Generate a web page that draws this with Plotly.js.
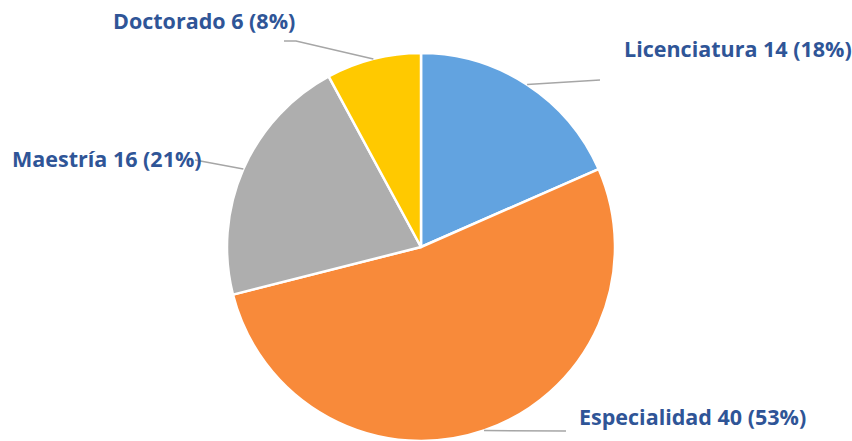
<!DOCTYPE html>
<html><head><meta charset="utf-8">
<script src="https://cdn.plot.ly/plotly-3.0.1.min.js"></script>
<style>html,body{margin:0;padding:0;background:#fff}#chart{width:852px;height:441px}</style>
</head><body><div id="chart"></div>
<script>
const labels = ["Licenciatura", "Especialidad", "Maestría", "Doctorado"];
const values = [14, 40, 16, 6];
const colors = ["#62A3E0", "#F88A3A", "#AEAEAE", "#FFC900"];

const W = 852, H = 441;
const cx = 421, cy = 247, R = 194;
const total = values.reduce((a, b) => a + b, 0);

// label placement (pixels): text anchor and leader-line elbow
const labelPos = [
  {x: 622, y: 48, anchor: "left", elbow: [[600, 80]]},
  {x: 577, y: 416, anchor: "left", elbow: [[566, 431]]},
  {x: 10, y: 158, anchor: "left", elbow: [[195, 160]]},
  {x: 111, y: 20, anchor: "left", elbow: [[296, 41], [284, 41]]}
];

const px = x => x / W, py = y => 1 - y / H;

const annotations = [], shapes = [];
let cum = 0;
values.forEach((v, i) => {
  const mid = (cum + v / 2) / total * 2 * Math.PI;
  cum += v;
  const sx = cx + R * Math.sin(mid), sy = cy - R * Math.cos(mid);
  const pct = Math.round(v / total * 100);
  const lp = labelPos[i];
  annotations.push({
    xref: "paper", yref: "paper", x: px(lp.x), y: py(lp.y),
    xanchor: lp.anchor, yanchor: "middle", showarrow: false,
    text: "<b>" + labels[i] + " " + v + " (" + pct + "%)</b>",
    font: {family: "Open Sans, sans-serif", size: 21.5, color: "#2F5597"}
  });
  let path = "M" + px(sx) + "," + py(sy);
  lp.elbow.forEach(p => { path += " L" + px(p[0]) + "," + py(p[1]); });
  shapes.push({type: "path", xref: "paper", yref: "paper", path: path,
    line: {color: "#A6A6A6", width: 1.5}});
});

const trace = {
  type: "pie", labels: labels, values: values, sort: false,
  direction: "clockwise", rotation: 0, textinfo: "none", hoverinfo: "label+value+percent",
  marker: {colors: colors, line: {color: "#FFFFFF", width: 2.5}},
  domain: {x: [(cx - R) / W, (cx + R) / W], y: [(H - cy - R) / H, (H - cy + R) / H]},
  showlegend: false
};

Plotly.newPlot("chart", [trace], {
  width: W, height: H, margin: {l: 0, r: 0, t: 0, b: 0},
  paper_bgcolor: "#FFFFFF", annotations: annotations, shapes: shapes,
  showlegend: false
}, {displayModeBar: false, staticPlot: true});
</script></body></html>
